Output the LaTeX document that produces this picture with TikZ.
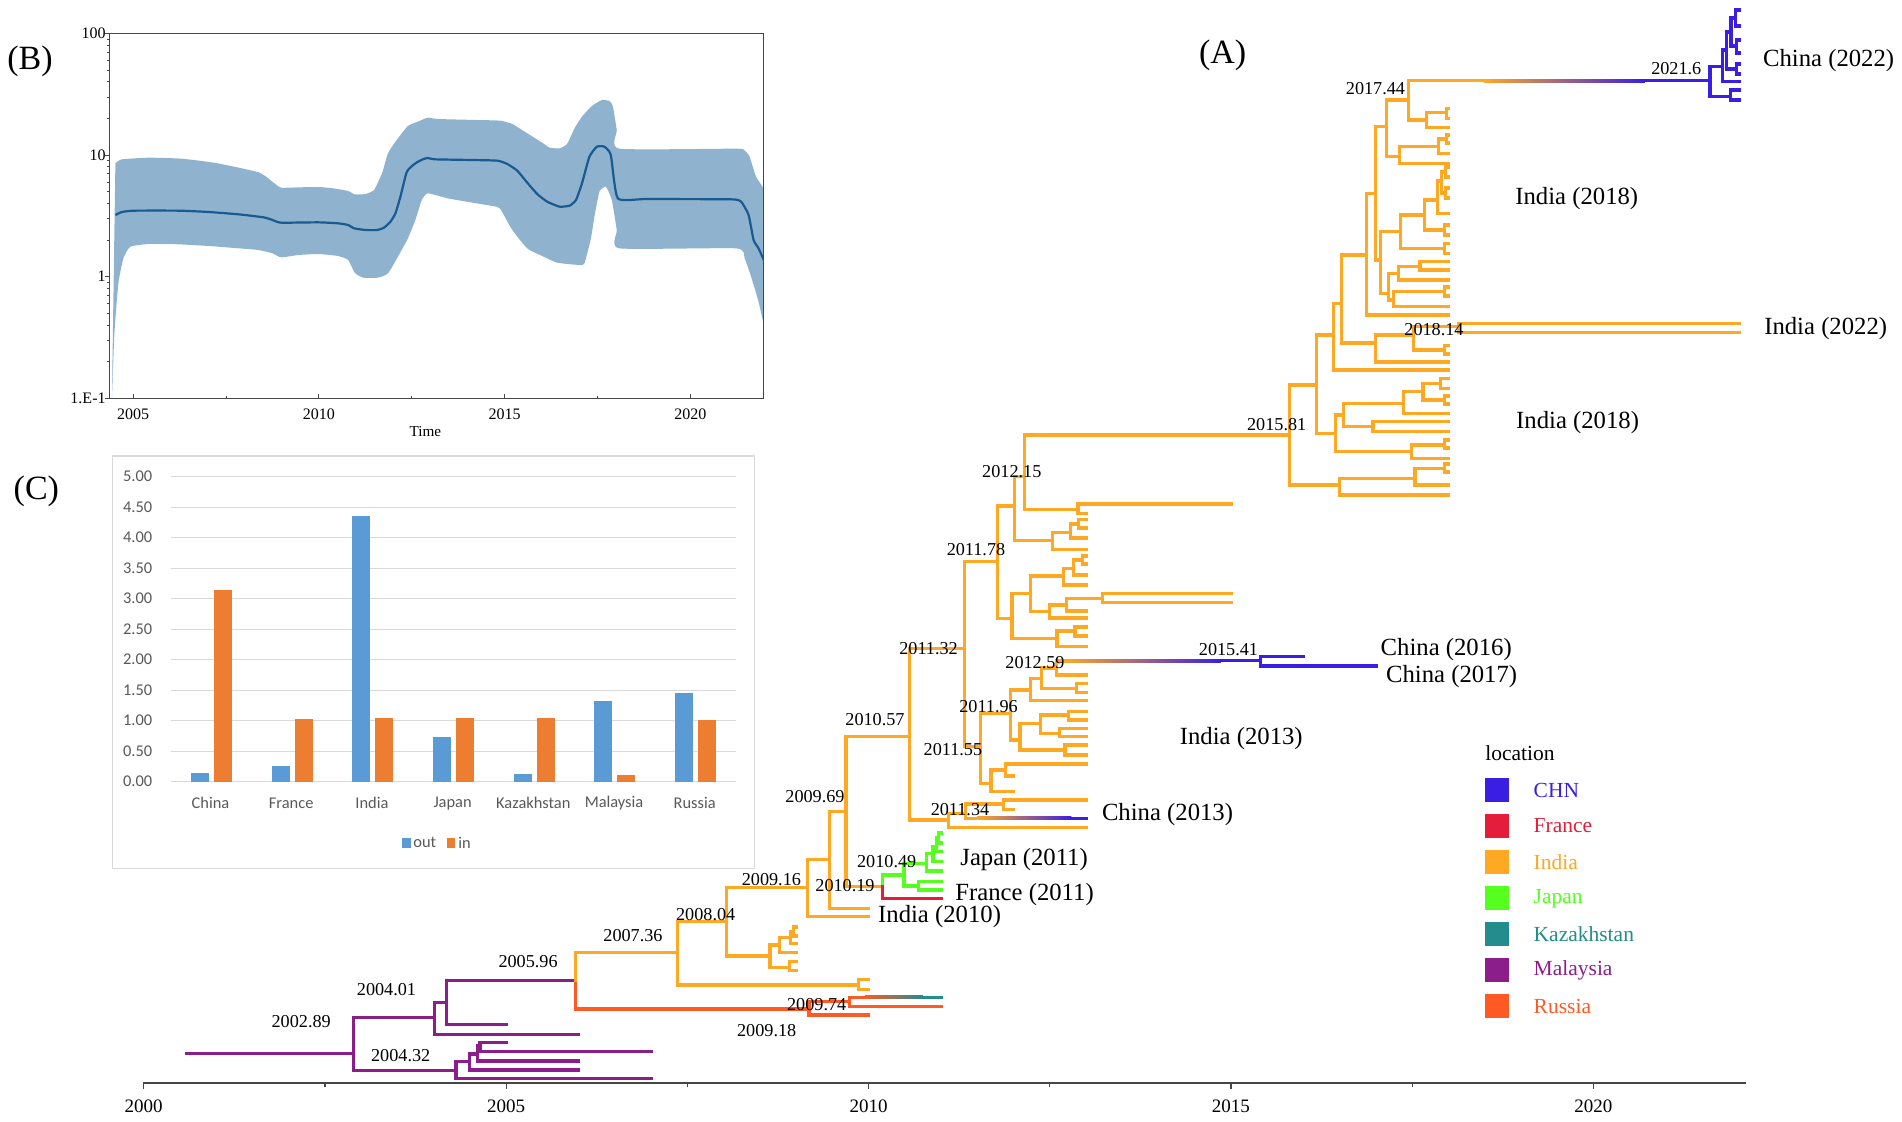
\documentclass[tikz,border=0pt]{standalone}
\usepackage{fontspec}
\setmainfont{Liberation Serif}
\newfontfamily\calfont{Carlito}
\definecolor{chn}{RGB}{58,30,228}
\definecolor{fra}{RGB}{228,30,58}
\definecolor{ind}{RGB}{255,168,36}
\definecolor{jpn}{RGB}{85,255,30}
\definecolor{kaz}{RGB}{35,140,140}
\definecolor{mal}{RGB}{140,30,140}
\definecolor{rus}{RGB}{255,90,35}
\definecolor{band}{RGB}{143,178,206}
\definecolor{med}{RGB}{25,90,145}
\definecolor{cout}{RGB}{91,155,213}
\definecolor{cin}{RGB}{237,125,49}
\definecolor{cgrid}{RGB}{217,217,217}
\definecolor{ctext}{RGB}{89,89,89}
\definecolor{axc}{RGB}{70,70,70}
\newcommand\tbh[3]{\draw (#1,#3) -- (#2,#3);}
\newcommand\tbv[3]{\draw (#1,#2) -- (#1,#3);}
\newcommand\tnd[5]{\draw (#1,#3) -- (#2,#3) (#2,#4) -- (#2,#5);}
\newcommand\ttw[6]{\draw (#1,#3) -- (#2,#3) (#6,#4) -- (#2,#4) -- (#2,#5) -- (#6,#5);}
\newcommand\tgr[7]{\draw[#1] (#3,#7) -- (#4,#7);\shade[left color=#1,right color=#2] (#4,#7-1.6) rectangle (#5,#7+1.6);\draw[#2] (#5,#7) -- (#6,#7);}
\tikzset{
  nlab/.style={font=\fontsize{9.1}{10}\selectfont, inner sep=0pt},
  tlab/.style={font=\fontsize{12.35}{14}\selectfont, inner sep=0pt, anchor=west},
  plab/.style={font=\fontsize{17}{19}\selectfont, inner sep=0pt},
  llab/.style={font=\fontsize{10.75}{12}\selectfont, inner sep=0pt, anchor=west},
  blab/.style={font=\fontsize{8}{9}\selectfont, inner sep=0pt},
  alab/.style={font=\fontsize{9.5}{10}\selectfont, inner sep=0pt},
  clab/.style={font=\calfont\fontsize{8.2}{9}\selectfont, inner sep=0pt, text=ctext},
}
\begin{document}
\begin{tikzpicture}[x=0.5pt,y=-0.5pt]
\useasboundingbox (0,0) rectangle (1902,1121);
\fill[white] (0,0) rectangle (1902,1121);

% ================= Panel B =================
\begin{scope}
\clip (109.4,33.3) rectangle (763.5,398.3);
\begin{scope}[xscale=0.4974, yscale=0.33333]
\fill[band] plot[smooth, tension=0.3] coordinates {(232,490) (245,478) (300,473) (365,476) (430,488) (480,503) (520,517) (535,530) (550,548) (565,563) (600,562) (640,561) (670,565) (700,573) (713,583) (735,582) (752,570) (768,520) (780,460) (795,425) (820,378) (840,365) (860,353) (880,357) (960,360) (1005,362) (1030,372) (1060,400) (1090,428) (1105,443) (1125,445) (1140,432) (1155,385) (1170,350) (1190,318) (1210,300) (1225,303) (1232,318) (1240,390) (1245,446) (1480,446) (1497,452) (1507,470) (1520,530) (1540,575)}
 -- plot[smooth, tension=0.3] coordinates {(1540,1005) (1525,905) (1510,830) (1497,775) (1480,745) (1245,745) (1240,690) (1230,600) (1218,560) (1205,575) (1195,650) (1188,715) (1175,790) (1165,795) (1120,788) (1090,768) (1060,745) (1030,690) (1005,625) (990,618) (950,608) (900,595) (860,580) (848,600) (835,660) (820,715) (800,770) (780,820) (760,833) (730,833) (713,818) (700,780) (680,768) (640,762) (600,765) (565,772) (548,760) (520,750) (480,745) (420,738) (360,733) (300,732) (262,740) (248,775) (238,850) (230,1000) (225,1200)} -- cycle;
\draw[med, line width=1.1pt] plot[smooth, tension=0.3] coordinates {(232,645) (245,636) (270,632) (360,632) (420,636) (480,643) (530,652) (548,660) (565,668) (640,667) (680,670) (700,675) (712,685) (735,690) (758,690) (772,683) (785,665) (795,640) (805,590) (818,515) (835,490) (850,478) (860,474) (875,478) (950,480) (1000,482) (1020,492) (1040,512) (1060,548) (1080,582) (1100,605) (1125,620) (1145,617) (1158,600) (1170,550) (1185,470) (1200,440) (1215,440) (1228,465) (1242,595) (1300,597) (1470,598) (1490,605) (1505,645) (1515,720) (1525,745) (1540,795)};
\end{scope}
\end{scope}
\draw[axc, line width=0.6pt] (109.4,33.3) rectangle (763.5,398.3);
\foreach \k in {-1,0,1} \foreach \m in {2,...,9}
  \draw[axc, line width=0.4pt] (109.4,{33.33+(2-(\k+log10(\m)))*121.67}) -- ++(-2.5,0);
\foreach \yy/\lab in {33.33/100, 155/10, 276.67/1, 398.33/1.E-1} {
  \draw[axc, line width=0.5pt] (109.4,\yy) -- ++(-4,0);
  \node[blab, anchor=east] at (106,\yy) {\lab};
}
\foreach \yr in {2005,2010,2015,2020} {
  \draw[axc, line width=0.5pt] ({109.4+(\yr-2004.36)*37.14},398.3) -- ++(0,-4);
  \node[blab] at ({109.4+(\yr-2004.36)*37.14},414.7) {\yr};
}
\foreach \yr in {2007.5,2012.5,2017.5}
  \draw[axc, line width=0.4pt] ({109.4+(\yr-2004.36)*37.14},398.3) -- ++(0,-2.5);
\node[blab, font=\fontsize{7.6}{9}\selectfont] (timelab) at (425.3,431.7) {Time};
\node[plab] (pB) at (30,61) {(B)};

% ================= Panel C =================
\draw[cgrid, fill=white, line width=0.6pt] (112.6,456) rectangle (754.5,868.3);
\foreach \v/\lab in {0/0.00,0.5/0.50,1/1.00,1.5/1.50,2/2.00,2.5/2.50,3/3.00,3.5/3.50,4/4.00,4.5/4.50,5/5.00} {
  \draw[cgrid, line width=0.7pt] (170.7,{781.7-61*\v}) -- (735.6,{781.7-61*\v});
  \node[clab, anchor=east] at (152.6,{781.7-61*\v}) {\lab};
}
\foreach \i/\nm/\o/\n in {0/China/0.15/3.14, 1/France/0.25/1.02, 2/India/4.35/1.04, 3/Japan/0.73/1.04, 4/Kazakhstan/0.13/1.04, 5/Malaysia/1.32/0.11, 6/Russia/1.45/1.01} {
  \fill[cout] ({210.9+80.7*\i-20},781.7) rectangle ({210.9+80.7*\i-2},{781.7-61*\o});
  \fill[cin] ({210.9+80.7*\i+3},781.7) rectangle ({210.9+80.7*\i+21},{781.7-61*\n});
  \node[clab] at ({210.5+80.7*\i},803.3) {\nm};
}
\fill[cout] (402.2,837.5) rectangle (410.6,848);
\node[clab, anchor=west] (lgout) at (413,842.7) {out};
\fill[cin] (447,837.5) rectangle (455.4,848);
\node[clab, anchor=west] (lgin) at (458,842.7) {in};
\node[plab] (pC) at (36.4,491.3) {(C)};

% ================= Panel A : tree =================
\begin{scope}[shift={(143.7,0)}, x=36.24pt, line width=1.6pt, line cap=rect, color=ind]
% Malaysia
\begin{scope}[color=mal]
\tbh{0.59}{2.89}{1053.3}
\tbv{2.89}{1017.3}{1070.7}
\tnd{2.89}{4.01}{1017.3}{1002.7}{1034.3}
\tbh{4.01}{6.0}{1034.3}
\tnd{4.01}{4.18}{1002.7}{980.7}{1024.3}
\tbh{4.18}{5.0}{1024.3}
\tbh{4.18}{5.96}{980.7}
\tnd{2.89}{4.31}{1070.7}{1061.3}{1078.7}
\tbh{4.31}{7.0}{1078.7}
\tnd{4.31}{4.49}{1061.3}{1054}{1070}
\tbh{4.49}{6.0}{1070}
\tnd{4.49}{4.61}{1054}{1045.7}{1061}
\tbh{4.61}{6.0}{1061}
\tnd{4.61}{4.64}{1045.7}{1042.7}{1051.7}
\tbh{4.64}{5.0}{1042.7}
\tbh{4.64}{7.0}{1051.7}
\end{scope}
% Russia
\begin{scope}[color=rus]
\tbv{5.96}{980.7}{1009}
\tbh{5.96}{9.18}{1009}
\tbv{9.18}{1001.7}{1015}
\tbh{9.18}{10.0}{1015}
\tnd{9.18}{9.74}{1001.7}{997.3}{1006.7}
\tbh{9.74}{11.0}{1006.7}
\end{scope}
\tgr{rus}{kaz}{9.74}{9.95}{10.75}{11.0}{997.3}
% India backbone
\tbv{5.96}{952.3}{980.7}
\tnd{5.96}{7.36}{952.3}{921.7}{985}
\ttw{7.36}{9.86}{985}{979.3}{989.3}{10.0}
\tnd{7.36}{8.04}{921.7}{887.5}{956}
\tnd{8.04}{8.64}{956}{945}{967.3}
\tnd{8.64}{8.77}{945}{937.3}{952.7}
\tbh{8.77}{9.0}{952.7}
\tnd{8.77}{8.92}{937.3}{932}{943.3}
\tbh{8.92}{9.0}{943.3}
\ttw{8.92}{8.97}{932}{927}{936}{9.0}
\ttw{8.64}{8.91}{967.3}{961.7}{970.7}{9.0}
\tnd{8.04}{9.16}{887.5}{859.3}{916.7}
\tbh{9.16}{10.0}{916.7}
\tnd{9.16}{9.46}{859.3}{811.7}{908.3}
\tbh{9.46}{10.0}{908.3}
\tnd{9.46}{9.69}{811.7}{736.7}{886.7}
\tbh{9.69}{10.19}{886.7}
% Japan / France
\begin{scope}[color=jpn]
\tbv{10.19}{875}{886.7}
\tnd{10.19}{10.49}{875}{863.3}{886}
\ttw{10.49}{10.69}{886}{881.7}{890}{11.0}
\tnd{10.49}{10.80}{863.3}{853.3}{871}
\tbh{10.80}{11.0}{871}
\tnd{10.80}{10.89}{853.3}{846.7}{861.7}
\tbh{10.89}{11.0}{861.7}
\tnd{10.89}{10.94}{846.7}{838}{851.7}
\tbh{10.94}{11.0}{851.7}
\ttw{10.94}{10.97}{838}{833}{843}{11.0}
\end{scope}
\begin{scope}[color=fra]
\tbv{10.19}{886.7}{898.3}
\tbh{10.19}{11.0}{898.3}
\end{scope}
% 2010.57 clade
\tnd{9.69}{10.57}{736.7}{648.3}{820}
\tnd{10.57}{11.10}{820}{813.3}{827.7}
\tbh{11.10}{13.0}{827.7}
\tnd{11.10}{11.34}{813.3}{804}{818.3}
\tgr{ind}{chn}{11.34}{11.5}{12.8}{13.0}{818.3}
\tnd{11.34}{11.86}{804}{800}{809.3}
\tbh{11.86}{13.0}{800}
\tbh{11.86}{12.0}{809.3}
\tnd{10.57}{11.32}{648.3}{561.7}{746.7}
\tnd{11.32}{11.78}{561.7}{506}{618.3}
\tnd{11.78}{12.01}{506}{476.7}{540.7}
\tnd{12.01}{12.15}{476.7}{435}{509.3}
\ttw{12.15}{12.89}{509.3}{504}{513.3}{13.0}
\tbh{13.0}{15.0}{504}
\tnd{12.01}{12.54}{540.7}{532.7}{549.3}
\tbh{12.54}{13.0}{549.3}
\tnd{12.54}{12.79}{532.7}{524}{538}
\tbh{12.79}{13.0}{538}
\ttw{12.79}{12.9}{524}{519.5}{528}{13.0}
\tnd{11.78}{11.98}{618.3}{593.3}{638.3}
\tnd{11.98}{12.23}{593.3}{576}{611.7}
\tnd{12.23}{12.69}{576}{568.3}{585}
\tbh{12.69}{13.0}{585}
\tnd{12.69}{12.83}{568.3}{560}{575}
\tbh{12.83}{13.0}{575}
\ttw{12.83}{12.95}{560}{556}{564}{13.0}
\tnd{12.23}{12.5}{611.7}{605}{618}
\tbh{12.5}{13.0}{618}
\tnd{12.5}{12.73}{605}{598.3}{611}
\tbh{12.73}{13.0}{611}
\ttw{12.73}{13.23}{598.3}{593.3}{602.7}{15.0}
\tnd{11.98}{12.6}{638.3}{631}{646.7}
\tbh{12.6}{13.0}{646.7}
\ttw{12.6}{12.85}{631}{627}{636}{13.0}
\tnd{11.32}{11.55}{746.7}{713.3}{783.3}
\tnd{11.55}{11.96}{713.3}{690}{740}
\tnd{11.96}{12.23}{690}{678.3}{700.7}
\tbh{12.23}{13.0}{700.7}
\tnd{12.23}{12.39}{678.3}{668}{688.3}
\tnd{12.39}{12.59}{668}{660.7}{675}
\tbh{12.59}{13.0}{675}
\ttw{12.39}{12.87}{688.3}{683.3}{692.7}{13.0}
\tgr{ind}{chn}{12.59}{12.7}{14.86}{15.41}{660.7}
\begin{scope}[color=chn]
\tbv{15.41}{656.7}{666}
\tbh{15.41}{16.0}{656.7}
\tbh{15.41}{17.01}{666}
\end{scope}
\tnd{11.96}{12.09}{740}{723.3}{750}
\tnd{12.09}{12.37}{723.3}{715}{733.3}
\ttw{12.37}{12.76}{715}{711.7}{720}{13.0}
\ttw{12.37}{12.64}{733.3}{728.3}{736.7}{13.0}
\ttw{12.09}{12.71}{750}{745}{755}{13.0}
\tnd{11.55}{11.69}{783.3}{770}{791.7}
\tbh{11.69}{12.0}{791.7}
\tnd{11.69}{11.89}{770}{764}{776}
\tbh{11.89}{13.0}{764}
\tbh{11.89}{12.0}{776}
% 2015.81 clade
\tbh{12.15}{15.81}{435}
\tbv{15.81}{385}{485}
\tnd{15.81}{16.18}{385}{335}{433.3}
\tnd{16.18}{16.41}{335}{303.3}{370}
\tbh{16.41}{18.0}{370}
\tnd{16.41}{16.53}{303.3}{255}{343}
\tnd{16.53}{16.87}{255}{193.3}{315}
\tbh{16.87}{18.0}{315}
\tnd{16.87}{16.99}{193.3}{126.7}{260}
\tnd{16.99}{17.15}{126.7}{100}{156.7}
\tnd{17.15}{17.45}{100}{80.7}{120}
\tnd{17.45}{17.70}{120}{112.7}{127.3}
\tbh{17.70}{18.0}{127.3}
\ttw{17.70}{17.97}{112.7}{108.3}{118.3}{18.0}
\tnd{17.15}{17.33}{156.7}{146.7}{163.3}
\tbh{17.33}{18.0}{163.3}
\tnd{17.33}{17.86}{146.7}{139}{153.3}
\tbh{17.86}{18.0}{153.3}
\ttw{17.86}{17.97}{139}{135}{143}{18.0}
\tnd{16.99}{17.06}{260}{231.7}{293.3}
\tnd{17.06}{17.34}{231.7}{215}{248.3}
\tnd{17.34}{17.67}{215}{200}{230}
\tnd{17.67}{17.85}{200}{181}{213.3}
\tbh{17.85}{18.0}{213.3}
\tnd{17.85}{17.9}{181}{172}{193}
\ttw{17.9}{17.96}{172}{167}{177}{18.0}
\ttw{17.9}{17.96}{193}{188}{198}{18.0}
\ttw{17.67}{17.95}{230}{225}{235}{18.0}
\ttw{17.34}{17.95}{248.3}{243.3}{253.3}{18.0}
\tnd{17.06}{17.17}{293.3}{273.3}{300}
\tnd{17.17}{17.31}{273.3}{266.7}{280}
\tbh{17.31}{18.0}{280}
\ttw{17.31}{17.61}{266.7}{261.7}{270}{18.0}
\tnd{17.17}{17.24}{300}{291.7}{306.7}
\tbh{17.24}{18.0}{306.7}
\ttw{17.24}{17.95}{291.7}{287}{296}{18.0}
\tnd{16.53}{16.99}{343}{335}{362}
\tbh{16.99}{18.0}{362}
\tnd{16.99}{17.52}{335}{326.7}{350}
\ttw{17.52}{18.14}{326.7}{323.3}{332.7}{22.02}
\ttw{17.52}{17.95}{350}{345.5}{354}{18.0}
\tnd{16.18}{16.44}{433.3}{415}{451.7}
\tnd{16.44}{16.55}{415}{403.3}{426.7}
\tnd{16.55}{17.38}{403.3}{391.7}{413.3}
\tbh{17.38}{18.0}{413.3}
\tnd{17.38}{17.65}{391.7}{383.3}{400}
\ttw{17.65}{17.89}{383.3}{378.3}{388.3}{18.0}
\ttw{17.65}{17.95}{400}{396}{404}{18.0}
\ttw{16.55}{16.96}{426.7}{421.7}{431.7}{18.0}
\tnd{16.44}{17.49}{451.7}{445}{458.3}
\tbh{17.49}{18.0}{458.3}
\ttw{17.49}{17.95}{445}{440}{448}{18.0}
\tnd{15.81}{16.5}{485}{478.3}{495}
\tbh{16.5}{18.0}{495}
\tnd{16.5}{17.54}{478.3}{468.3}{485}
\tbh{17.54}{18.0}{485}
\ttw{17.54}{17.95}{468.3}{464}{472}{18.0}
% China 2022
\tgr{ind}{chn}{17.45}{18.49}{20.71}{21.61}{80.7}
\begin{scope}[color=chn]
\tbv{21.61}{66.7}{96.7}
\tnd{21.61}{21.78}{66.7}{50}{81.7}
\tbh{21.78}{22.02}{81.7}
\tnd{21.78}{21.84}{50}{32}{69}
\ttw{21.84}{21.98}{69}{64}{74}{22.02}
\tnd{21.84}{21.9}{32}{18}{46}
\ttw{21.9}{21.96}{18}{10}{26}{22.02}
\ttw{21.9}{21.97}{46}{40}{53}{22.02}
\ttw{21.61}{21.89}{96.7}{90}{100}{22.02}
\end{scope}
\end{scope}

% tree time axis
\draw[axc, line width=0.7pt] (143,1083) -- (1746,1083);
\foreach \yr/\lab in {0/2000,5/2005,10/2010,15/2015,20/2020} {
  \draw[axc, line width=0.6pt] ({143.7+72.48*\yr},1083) -- ++(0,6);
  \node[alab] at ({143.7+72.48*\yr},1106.7) {\lab};
}
\foreach \yr in {2.5,7.5,12.5,17.5}
  \draw[axc, line width=0.6pt] ({143.7+72.48*\yr},1083) -- ++(0,3.5);

% node labels
\node[nlab] (l1) at (301.2,1021.7) {2002.89};
\node[nlab] (l2) at (386.5,990) {2004.01};
\node[nlab] (l3) at (400.7,1055.7) {2004.32};
\node[nlab] (l4) at (528.1,961.7) {2005.96};
\node[nlab] (l5) at (633,935.7) {2007.36};
\node[nlab] (l6) at (705.7,915) {2008.04};
\node[nlab] (l7) at (771.4,880) {2009.16};
\node[nlab] (l8) at (815,796.7) {2009.69};
\node[nlab] (l9) at (845,886) {2010.19};
\node[nlab] (l10) at (886.7,861.7) {2010.49};
\node[nlab] (l11) at (816.7,1005) {2009.74};
\node[nlab] (l12) at (766.7,1030.7) {2009.18};
\node[nlab] (l13) at (875,720) {2010.57};
\node[nlab] (l14) at (928.6,648.3) {2011.32};
\node[nlab] (l15) at (976,550) {2011.78};
\node[nlab] (l16) at (1011.8,471.7) {2012.15};
\node[nlab] (l17) at (1035,662.7) {2012.59};
\node[nlab] (l18) at (1228.5,650) {2015.41};
\node[nlab] (l19) at (988.6,706.7) {2011.96};
\node[nlab] (l20) at (952.9,750) {2011.55};
\node[nlab] (l21) at (960,809.3) {2011.34};
\node[nlab] (l22) at (1276.7,425) {2015.81};
\node[nlab] (l23) at (1375.5,88.3) {2017.44};
\node[nlab] (l24) at (1434,329.5) {2018.14};
\node[nlab] (l25) at (1676.3,68.3) {2021.6};

% tip labels
\node[tlab] (t1) at (1762.7,61) {China (2022)};
\node[tlab] (t2) at (1515,198.3) {India (2018)};
\node[tlab] (t3) at (1763.9,328.3) {India (2022)};
\node[tlab] (t4) at (1515.8,422.7) {India (2018)};
\node[tlab] (t5) at (1380.3,650) {China (2016)};
\node[tlab] (t6) at (1385.7,676.7) {China (2017)};
\node[tlab] (t7) at (1179.5,738.3) {India (2013)};
\node[tlab] (t8) at (1101.6,815) {China (2013)};
\node[tlab] (t9) at (960,860) {Japan (2011)};
\node[tlab] (t10) at (955,895) {France (2011)};
\node[tlab] (t11) at (877.8,916.7) {India (2010)};
\node[plab] (pA) at (1222.7,55.8) {(A)};

% legend
\node[llab] (lgt) at (1485,753.3) {location};
\foreach \yc/\c/\nm in {790/chn/CHN, 826/fra/France, 862.3/ind/India, 898.3/jpn/Japan, 934.3/kaz/Kazakhstan, 970.3/mal/Malaysia, 1006.3/rus/Russia} {
  \fill[\c] (1485,\yc-12) rectangle (1509,\yc+12);
  \node[llab, text=\c] at (1533.3,\yc) {\nm};
}
\end{tikzpicture}
\end{document}
